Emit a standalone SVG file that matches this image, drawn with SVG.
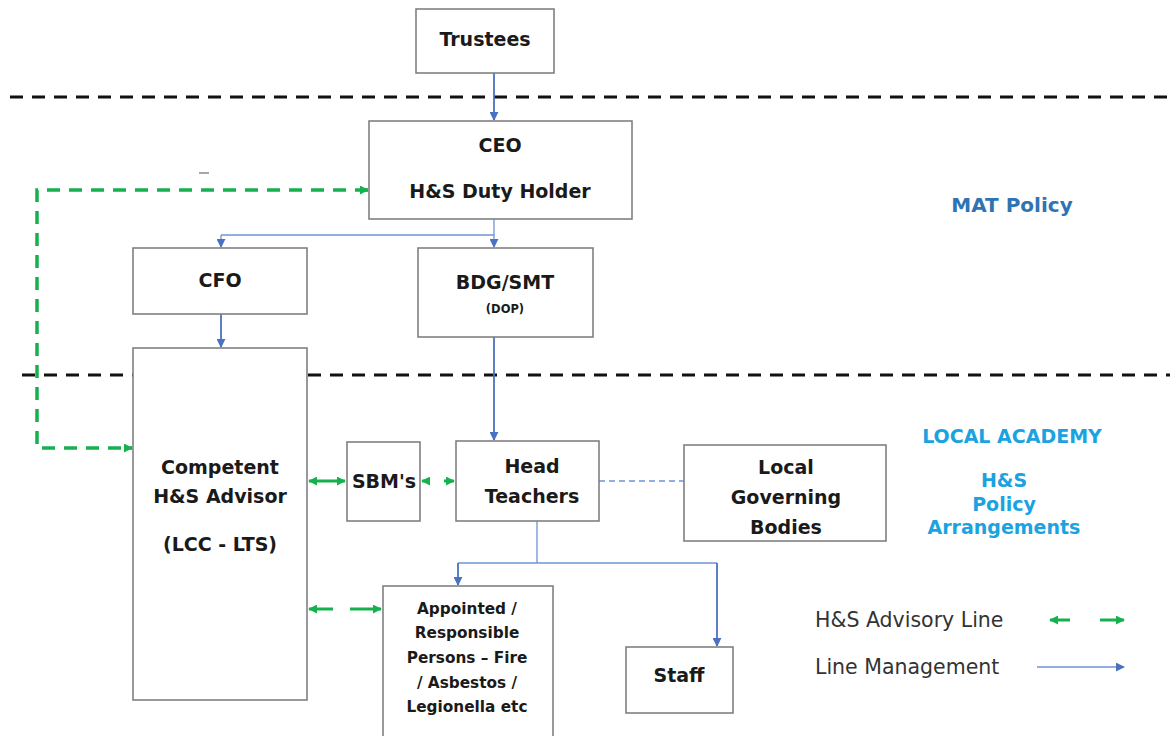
<svg xmlns="http://www.w3.org/2000/svg" width="1173" height="736" viewBox="0 0 1173 736">
<style>
.box{fill:#fff;stroke:#808080;stroke-width:1.6}
.t{font-family:"DejaVu Sans","Open Sans",sans-serif;font-weight:bold;font-size:19px;fill:#1a1a1a;text-anchor:middle}
.sm{font-size:11.5px}
.ap{font-size:15.3px}
.lg{font-family:"DejaVu Sans","Open Sans",sans-serif;font-size:20.5px;fill:#333}
.sep{stroke:#111;stroke-width:3;stroke-dasharray:13 9;fill:none}
.blue{stroke:#4a72c0;stroke-width:1.8;fill:none}
.blueThin{stroke:#6f93d6;stroke-width:1.3;fill:none}
.green{stroke:#17b04f;stroke-width:3.5;stroke-dasharray:13 9;fill:none}
.gshort{stroke:#17b04f;stroke-width:3;fill:none}
.mat{font-family:"DejaVu Sans","Open Sans",sans-serif;font-weight:bold;font-size:20px;fill:#2e74b5;text-anchor:middle}
.loc{font-family:"DejaVu Sans","Open Sans",sans-serif;font-weight:bold;font-size:19px;fill:#1aa3e0;text-anchor:middle}
</style>
<defs>
<marker id="ab" viewBox="0 0 10 10" refX="9" refY="5" markerWidth="9" markerHeight="9" markerUnits="userSpaceOnUse" orient="auto"><path d="M0,0 L10,5 L0,10 z" fill="#4a72c0"/></marker>
<marker id="ag" viewBox="0 0 10 10" refX="9" refY="5" markerWidth="9" markerHeight="9" markerUnits="userSpaceOnUse" orient="auto-start-reverse"><path d="M0,0 L10,5 L0,10 z" fill="#17b04f"/></marker>
</defs>
<rect width="1173" height="736" fill="#fff"/>

<g id="separators">
<line class="sep" x1="10" y1="97" x2="1168" y2="97"/>
<line class="sep" x1="22" y1="375" x2="1170" y2="375"/>
</g>

<g id="connectors">
<line class="blue" x1="494" y1="73" x2="494" y2="120" marker-end="url(#ab)"/>
<polyline class="blueThin" points="494,219 494,235"/>
<polyline class="blueThin" points="221,235 494,235"/>
<line class="blueThin" x1="221" y1="235" x2="221" y2="247" marker-end="url(#ab)"/>
<line class="blueThin" x1="494" y1="235" x2="494" y2="247" marker-end="url(#ab)"/>
<line class="blue" x1="221" y1="314" x2="221" y2="347" marker-end="url(#ab)"/>
<line class="blue" x1="494" y1="337" x2="494" y2="440" marker-end="url(#ab)"/>
<polyline class="green" points="368,190 37,190 37,448 132,448" />
<line class="gshort" x1="365" y1="190" x2="368" y2="190" marker-end="url(#ag)"/>
<line class="gshort" x1="129" y1="448" x2="132" y2="448" marker-end="url(#ag)"/>
<line class="gshort" x1="309" y1="481" x2="345" y2="481" marker-start="url(#ag)" marker-end="url(#ag)"/>
<line class="gshort" x1="422" y1="481" x2="430" y2="481" marker-start="url(#ag)"/>
<line class="gshort" x1="444" y1="481" x2="454" y2="481" marker-end="url(#ag)"/>
<line class="blueThin" x1="599" y1="481" x2="684" y2="481" style="stroke-dasharray:6 4"/>
<polyline class="blueThin" points="537,521 537,563"/>
<polyline class="blueThin" points="458,563 717,563"/>
<line class="blue" x1="458" y1="563" x2="458" y2="585" marker-end="url(#ab)"/>
<line class="blue" x1="717" y1="563" x2="717" y2="646" marker-end="url(#ab)"/>
<line class="gshort" x1="309" y1="609" x2="333" y2="609" marker-start="url(#ag)"/>
<line class="gshort" x1="350" y1="609" x2="381" y2="609" marker-end="url(#ag)"/>
</g>

<g id="trustees"><rect class="box" x="416" y="9" width="138" height="64"/><text class="t" x="485" y="46">Trustees</text></g>
<g id="ceo"><rect class="box" x="369" y="121" width="263" height="98"/><text class="t" x="500" y="152">CEO</text><text class="t" x="500" y="198">H&amp;S Duty Holder</text></g>
<g id="cfo"><rect class="box" x="133" y="248" width="174" height="66"/><text class="t" x="220" y="287">CFO</text></g>
<g id="bdg"><rect class="box" x="418" y="248" width="175" height="89"/><text class="t" x="505" y="289">BDG/SMT</text><text class="t sm" x="505" y="313">(DOP)</text></g>
<g id="competent"><rect class="box" x="133" y="348" width="174" height="352"/><text class="t" x="220" y="474">Competent</text><text class="t" x="220" y="503">H&amp;S Advisor</text><text class="t" x="220" y="551">(LCC - LTS)</text></g>
<g id="sbm"><rect class="box" x="347" y="442" width="73" height="79"/><text class="t" x="384" y="488">SBM's</text></g>
<g id="head"><rect class="box" x="456" y="441" width="143" height="80"/><text class="t" x="532" y="473">Head</text><text class="t" x="532" y="503">Teachers</text></g>
<g id="lgb"><rect class="box" x="684" y="445" width="202" height="96"/><text class="t" x="786" y="474">Local</text><text class="t" x="786" y="504">Governing</text><text class="t" x="786" y="534">Bodies</text></g>
<g id="appointed"><rect class="box" x="383" y="586" width="170" height="152"/>
<text class="t ap" x="467" y="614">Appointed /</text>
<text class="t ap" x="467" y="638">Responsible</text>
<text class="t ap" x="467" y="663">Persons – Fire</text>
<text class="t ap" x="467" y="688">/ Asbestos /</text>
<text class="t ap" x="467" y="712">Legionella etc</text></g>
<g id="staff"><rect class="box" x="626" y="647" width="107" height="66"/><text class="t" x="679" y="682">Staff</text></g>

<g id="labels">
<line x1="199" y1="173" x2="209" y2="173" stroke="#888" stroke-width="1.5"/>
<text class="mat" x="1012" y="212">MAT Policy</text>
<text class="loc" x="1012" y="443">LOCAL ACADEMY</text>
<text class="loc" x="1004" y="487">H&amp;S</text>
<text class="loc" x="1004" y="511">Policy</text>
<text class="loc" x="1004" y="534">Arrangements</text>
</g>

<g id="legend">
<text class="lg" x="815" y="627">H&amp;S Advisory Line</text>
<text class="lg" x="815" y="674">Line Management</text>
<line class="gshort" x1="1050" y1="620" x2="1070" y2="620" marker-start="url(#ag)"/>
<line class="gshort" x1="1100" y1="620" x2="1124" y2="620" marker-end="url(#ag)"/>
<line class="blueThin" x1="1037" y1="667" x2="1124" y2="667" marker-end="url(#ab)"/>
</g>
</svg>
